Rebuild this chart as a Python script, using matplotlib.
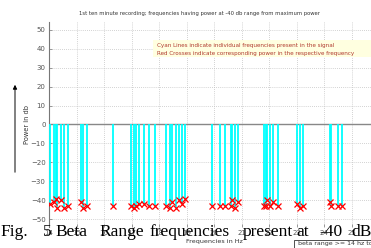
import matplotlib
matplotlib.use('Agg')
import matplotlib.pyplot as plt
from matplotlib.patches import Rectangle, FancyArrowPatch

# frequencies (Hz) found within -40 db of the maximum, and their power (db)
freqs = [14.04, 14.18, 14.24, 14.30, 14.43, 14.55, 14.68, 15.16, 15.25, 15.37,
         16.34, 16.98, 17.10, 17.18, 17.29, 17.44, 17.64, 17.87, 18.24, 18.40,
         18.48, 18.60, 18.73, 18.85, 18.95, 19.93, 20.21, 20.40, 20.60, 20.67,
         20.75, 20.86, 21.81, 21.88, 21.94, 22.05, 22.16, 22.34, 23.02, 23.12,
         23.22, 24.22, 24.25, 24.52, 24.67]
power = [-42, -41, -39, -44, -40, -44, -43, -41, -44, -43,
         -43, -43, -44, -43, -42, -42, -43, -43, -43, -44,
         -41, -44, -40, -42, -39, -43, -43, -43, -43, -40,
         -44, -41, -43, -43, -40, -43, -41, -43, -42, -44,
         -43, -41, -43, -43, -43]

x_ticks = list(range(14, 31))
y_ticks = list(range(-50, 51, 10))

title = '1st ten minute recording; frequencies having power at -40 db range from maximum power'
note_lines = ['Cyan Lines indicate individual frequencies present in the signal',
              'Red Crosses indicate corresponding power in the respective frequency']
caption_words = ['Fig.', '5', 'Beta', 'Range', 'frequencies', 'present', 'at', '-40', 'dB']
caption_x = [0, 43, 55, 99, 149, 243, 296, 319, 351]   # left edge of each word, px

W, H = 371, 248
fig = plt.figure(figsize=(W / 100, H / 100), dpi=100)
fig.patch.set_facecolor('white')

# axes run past the right edge of the crop
ax = fig.add_axes([49 / W, 21 / H, 440 / W, 205 / H])
ax.set_xlim(14, 30)
ax.set_ylim(-54, 54)
ax.set_xticks(x_ticks)
ax.set_yticks(y_ticks)
ax.grid(True, linestyle=(0, (1, 1.5)), color='#c4c4c4', linewidth=0.6, zorder=0)
ax.set_axisbelow(True)

for s in ['top', 'right', 'bottom']:
    ax.spines[s].set_visible(False)
ax.spines['left'].set_color('#777777')
ax.spines['left'].set_linewidth(0.8)
ax.tick_params(axis='both', direction='in', length=2, width=0.5, color='#777777',
               labelsize=5, labelcolor='#555555', pad=2.5)
ax.tick_params(axis='x', pad=2)

ax.axhline(0, color='#888888', linewidth=1.0, zorder=2)
ax.vlines(freqs, power, 0, colors='#00ffff', linewidth=1.3, zorder=3)
ax.plot(freqs, power, 'x', color='#ff0000', markersize=3.8, markeredgewidth=0.9,
        linestyle='none', zorder=4)

ax.set_ylabel('Power in db', fontsize=4.8, color='#333333', labelpad=0.5)

fig.text(200 / W, 1 - 13 / H, title, fontsize=3.8, color='#333333',
         ha='center', va='center')

# note box with cyan / red explanation
fig.patches.append(Rectangle((153 / W, 1 - 57 / H), 1, 17 / H, transform=fig.transFigure,
                             facecolor='#ffffe0', edgecolor='none', zorder=2))
for i, line in enumerate(note_lines):
    fig.text(157 / W, 1 - (45 + 8 * i) / H, line, fontsize=4.1, color='#b03a2e',
             ha='left', va='center', zorder=3)

# arrow at the left
fig.add_artist(FancyArrowPatch(
    (15 / W, 1 - 175 / H), (15 / W, 1 - 82 / H), transform=fig.transFigure,
    arrowstyle='-|>', mutation_scale=6, linewidth=0.7, color='black'))

fig.text(214 / W, 1 - 241 / H, 'Frequencies in Hz', fontsize=4.6, color='#333333',
         ha='center', va='center')

# paper caption lying over the chart
for word, xp in zip(caption_words, caption_x):
    fig.text(xp / W, 12 / H, word, fontsize=12.5, family='Liberation Serif',
             color='black', ha='left', va='baseline', zorder=5)

# small boxed note at the bottom right
fig.patches.append(Rectangle((294 / W, -0.05), 1, 8 / H + 0.05,
                             transform=fig.transFigure, facecolor='white',
                             edgecolor='#333333', linewidth=0.6, zorder=4))
fig.text(298 / W, 2.5 / H, 'beta range >= 14 hz to <= 30 hz', fontsize=4.5,
         color='#333333', ha='left', va='baseline', zorder=6)

fig.savefig('out.png', dpi=100)
